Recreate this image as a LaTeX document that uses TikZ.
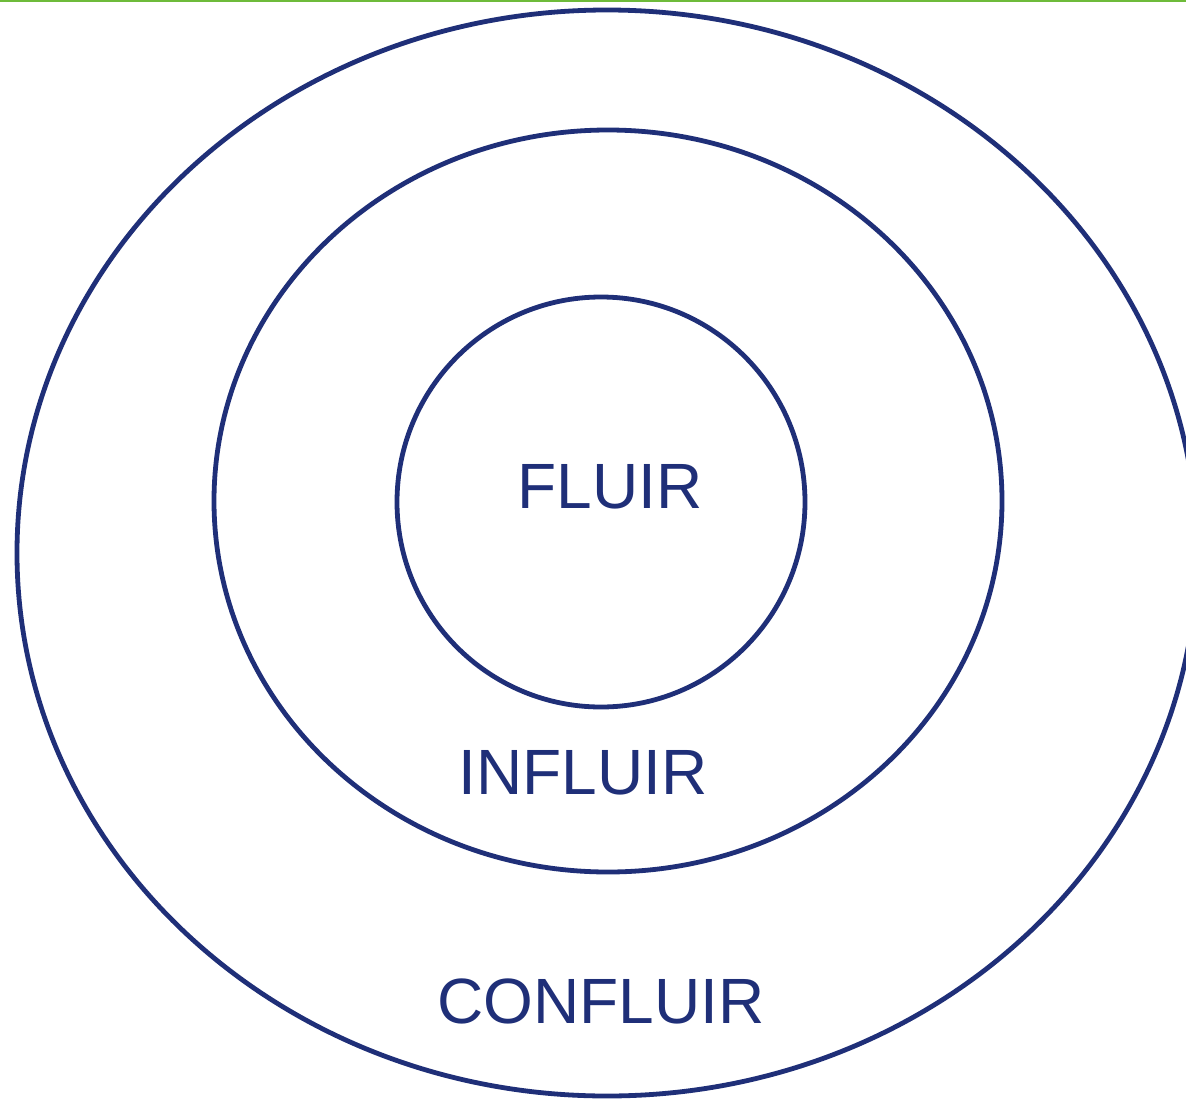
\documentclass[tikz,border=0pt]{standalone}
\usepackage{fontspec}
\setmainfont{Liberation Sans}
\usetikzlibrary{shapes.geometric}
\definecolor{navy}{RGB}{31,47,120}
\definecolor{topgreen}{RGB}{110,187,58}
\begin{document}
\begin{tikzpicture}[x=1pt,y=-1pt,
  ring/.style={draw=navy,line width=4.8pt,ellipse,inner sep=0pt},
  lbl/.style={text=navy,inner sep=0pt,font=\fontsize{64}{76}\selectfont}]
\useasboundingbox (0,0) rectangle (1186,1098);
\clip (0,0) rectangle (1186,1098);
\fill[white] (0,0) rectangle (1186,1098);
\coordinate (tl) at (0,1);
\coordinate (tr) at (1186,1);
\draw[topgreen,line width=2pt] (tl) -- (tr);
\node[ring,minimum width=1180pt,minimum height=1086pt] (outer) at (607,553) {};
\node[ring,minimum width=788pt,minimum height=742pt] (middle) at (608,501) {};
\node[ring,minimum width=408pt,minimum height=410pt] (inner) at (601,502) {};
\node[lbl] (fluir) at (610,487) {FLUIR};
\node[lbl] (influir) at (583,773) {INFLUIR};
\node[lbl] (confluir) at (601,1001) {CONFLUIR};
\end{tikzpicture}
\end{document}
